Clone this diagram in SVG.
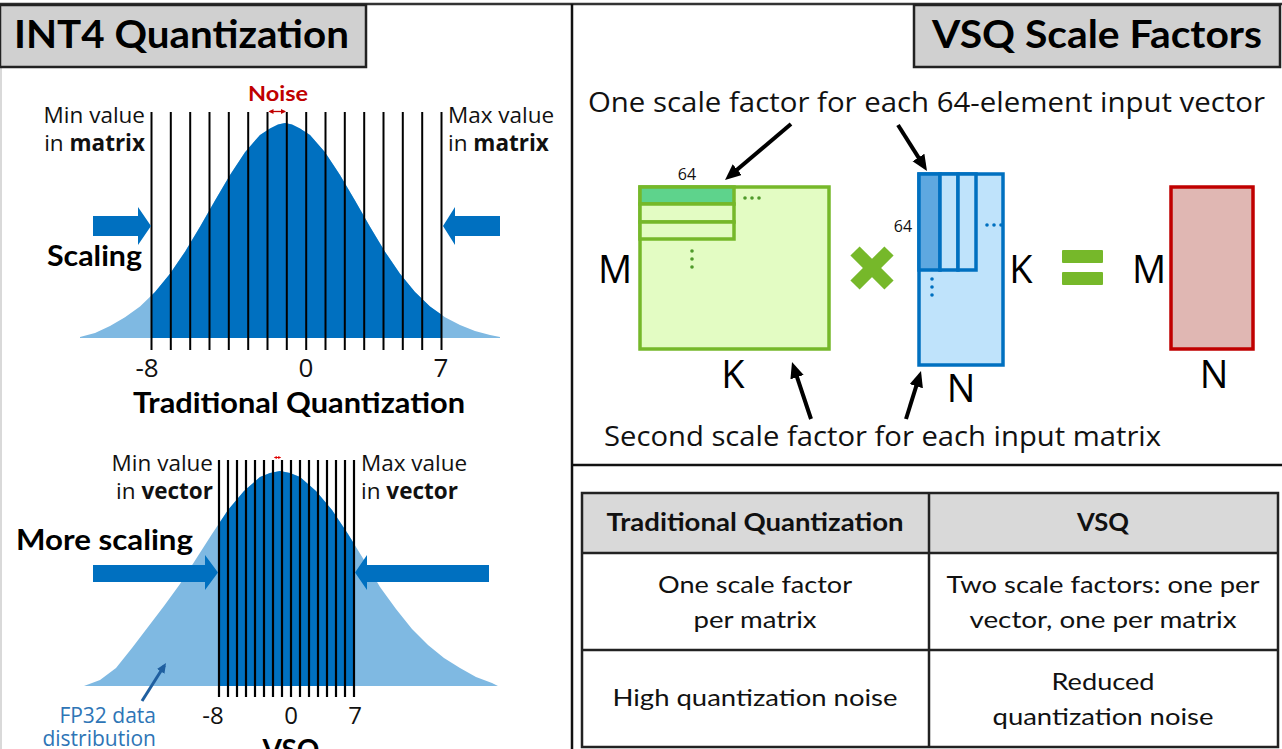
<svg xmlns="http://www.w3.org/2000/svg" width="1282" height="749" viewBox="0 0 1282 749">
<style>
.title{font-family:Lato,"Liberation Sans",sans-serif;font-weight:700;font-size:39px;fill:#000}
.bold{font-family:Lato,"Liberation Sans",sans-serif;font-weight:700;font-size:28px;fill:#000}
.lab{font-family:"Open Sans","Liberation Sans",sans-serif;font-size:22.5px;fill:#111}
.fp{font-family:"Open Sans","Liberation Sans",sans-serif;font-size:21px;fill:#2e75b6}
.num{font-family:"Open Sans","Liberation Sans",sans-serif;font-size:26px;fill:#111}
.big{font-family:"Open Sans","Liberation Sans",sans-serif;font-size:38px;fill:#000}
.small{font-family:"Open Sans","Liberation Sans",sans-serif;font-size:16px;fill:#111}
.cap{font-family:"Open Sans","Liberation Sans",sans-serif;font-size:27px;fill:#111}
.tab{font-family:Lato,"Liberation Sans",sans-serif;font-size:24px;fill:#111}
.tabh{font-family:Lato,"Liberation Sans",sans-serif;font-size:25px;font-weight:700;fill:#111}
.b{font-weight:700}
.qline{stroke:#000;stroke-width:2}
.qline2{stroke:#000;stroke-width:2.2}
.light{fill:#7fb9e2}
.dark{fill:#0070c0}
.blk{stroke:#000;stroke-width:4;fill:none}
.frame{stroke:#222;stroke-width:2.5;fill:none}
</style>
<defs>
<marker id="ah" markerUnits="userSpaceOnUse" markerWidth="18" markerHeight="16" refX="10" refY="7" orient="auto"><path d="M0,0 L16,7 L0,14 z" fill="#000"/></marker>
<marker id="ahb" markerUnits="userSpaceOnUse" markerWidth="12" markerHeight="10" refX="7" refY="4.5" orient="auto"><path d="M0,0 L10,4.5 L0,9 z" fill="#1f5fa0"/></marker>
<marker id="ahr" markerUnits="userSpaceOnUse" markerWidth="6" markerHeight="6" refX="4" refY="2.5" orient="auto-start-reverse"><path d="M0,0 L5,2.5 L0,5 z" fill="#c00000"/></marker>
<marker id="ahr2" markerUnits="userSpaceOnUse" markerWidth="4" markerHeight="4" refX="2" refY="1.5" orient="auto-start-reverse"><path d="M0,0 L3,1.5 L0,3 z" fill="#e00000"/></marker>
<clipPath id="c1"><rect x="151.5" y="100" width="290" height="250"/></clipPath>
<clipPath id="c2"><rect x="219" y="450" width="135" height="250"/></clipPath>
<path id="g1" d="M80,338 L80,337 L95,333 L110,326 L125,317.2 L140,306.5 L155,292.1 L170,273.7 L185,251.7 L200,226.8 L215,200.6 L230,174.9 L245,152.2 L260,134.9 L270,128.5 L278,124.5 L285,123 L292,124.5 L300,128.5 L310,134.9 L325,152.2 L340,174.9 L355,200.6 L370,226.8 L385,251.7 L400,273.7 L415,292.1 L430,306.5 L445,317.2 L460,324.9 L475,331 L490,335 L500,337 L500,338 Z"/>
<path id="g2" d="M84,686 L100,680 L116,668 L132,648 L148,627 L164,606 L180,584 L196,559 L212,534 L228,510 L244,491 L260,477 L270,473 L280,471 L290,473 L300,477 L316,491 L332,510 L348,534 L364,560 L380,587 L396,609 L412,629 L428,645 L444,658 L460,668 L476,677 L492,683 L498,686 Z"/>
</defs>
<rect width="1282" height="749" fill="#fff"/>

<g id="frame">
<line x1="0" y1="4" x2="1282" y2="4" stroke="#333" stroke-width="2.5"/>
<line x1="1" y1="4" x2="1" y2="749" stroke="#ccc" stroke-width="1.5"/>
<line x1="572" y1="4" x2="572" y2="749" stroke="#111" stroke-width="2.5"/>
<line x1="572" y1="465" x2="1282" y2="465" stroke="#111" stroke-width="2.5"/>
</g>

<g id="title-int4">
<rect x="0" y="5" width="366" height="62" fill="#d0d0d0" stroke="#222" stroke-width="2.5"/>
<text class="title" x="14" y="48" textLength="335" lengthAdjust="spacingAndGlyphs">INT4 Quantization</text>
</g>

<g id="title-vsq">
<rect x="914" y="5" width="366" height="62" fill="#d0d0d0" stroke="#222" stroke-width="2.5"/>
<text class="title" x="932" y="48" textLength="330" lengthAdjust="spacingAndGlyphs">VSQ Scale Factors</text>
</g>

<g id="traditional-dist">
<use href="#g1" class="light"/>
<use href="#g1" class="dark" clip-path="url(#c1)"/>
<g class="qline">
<line x1="151.5" y1="112" x2="151.5" y2="350"/><line x1="170.8" y1="112" x2="170.8" y2="350"/>
<line x1="190.2" y1="112" x2="190.2" y2="350"/><line x1="209.5" y1="112" x2="209.5" y2="350"/>
<line x1="228.8" y1="112" x2="228.8" y2="350"/><line x1="248.2" y1="112" x2="248.2" y2="350"/>
<line x1="267.5" y1="112" x2="267.5" y2="350"/><line x1="286.8" y1="112" x2="286.8" y2="350"/>
<line x1="306.2" y1="112" x2="306.2" y2="350"/><line x1="325.5" y1="112" x2="325.5" y2="350"/>
<line x1="344.8" y1="112" x2="344.8" y2="350"/><line x1="364.2" y1="112" x2="364.2" y2="350"/>
<line x1="383.5" y1="112" x2="383.5" y2="350"/><line x1="402.8" y1="112" x2="402.8" y2="350"/>
<line x1="422.2" y1="112" x2="422.2" y2="350"/><line x1="441.5" y1="112" x2="441.5" y2="350"/>
</g>
<line x1="269.5" y1="111.5" x2="285" y2="111.5" stroke="#c00000" stroke-width="1.3" marker-start="url(#ahr)" marker-end="url(#ahr)"/>
<text x="278" y="101" text-anchor="middle" style="font-family:Lato,'Liberation Sans',sans-serif;font-weight:700;font-size:21px;fill:#c00000" textLength="60" lengthAdjust="spacingAndGlyphs">Noise</text>
<text class="lab" x="145" y="123" text-anchor="end">Min value</text>
<text class="lab" x="145" y="151" text-anchor="end">in <tspan class="b">matrix</tspan></text>
<text class="lab" x="448" y="123">Max value</text>
<text class="lab" x="448" y="151">in <tspan class="b">matrix</tspan></text>
<path class="dark" d="M93,216 L138,216 L138,207 L151,226 L138,245 L138,236 L93,236 Z"/>
<path class="dark" d="M500,216 L455,216 L455,207 L443,226 L455,245 L455,236 L500,236 Z"/>
<text class="bold" x="47" y="266" textLength="95" lengthAdjust="spacingAndGlyphs">Scaling</text>
<text class="num" x="147" y="377" text-anchor="middle">-8</text>
<text class="num" x="306" y="377" text-anchor="middle">0</text>
<text class="num" x="441" y="377" text-anchor="middle">7</text>
<text class="bold" x="133" y="413" textLength="332" lengthAdjust="spacingAndGlyphs">Traditional Quantization</text>
</g>

<g id="vsq-dist">
<use href="#g2" class="light"/>
<use href="#g2" class="dark" clip-path="url(#c2)"/>
<g class="qline2">
<line x1="219" y1="460" x2="219" y2="697"/><line x1="228" y1="460" x2="228" y2="697"/>
<line x1="237" y1="460" x2="237" y2="697"/><line x1="246" y1="460" x2="246" y2="697"/>
<line x1="255" y1="460" x2="255" y2="697"/><line x1="264" y1="460" x2="264" y2="697"/>
<line x1="273" y1="460" x2="273" y2="697"/><line x1="282" y1="460" x2="282" y2="697"/>
<line x1="291" y1="460" x2="291" y2="697"/><line x1="300" y1="460" x2="300" y2="697"/>
<line x1="309" y1="460" x2="309" y2="697"/><line x1="318" y1="460" x2="318" y2="697"/>
<line x1="327" y1="460" x2="327" y2="697"/><line x1="336" y1="460" x2="336" y2="697"/>
<line x1="345" y1="460" x2="345" y2="697"/><line x1="354" y1="460" x2="354" y2="697"/>
</g>
<line x1="274.8" y1="457.5" x2="280.2" y2="457.5" stroke="#e00000" stroke-width="1" marker-start="url(#ahr2)" marker-end="url(#ahr2)"/>
<text class="lab" x="213" y="471" text-anchor="end">Min value</text>
<text class="lab" x="213" y="499" text-anchor="end">in <tspan class="b">vector</tspan></text>
<text class="lab" x="361" y="471">Max value</text>
<text class="lab" x="361" y="499">in <tspan class="b">vector</tspan></text>
<text class="bold" x="16" y="550" textLength="177" lengthAdjust="spacingAndGlyphs">More scaling</text>
<path class="dark" d="M93,565 L205,565 L205,555 L218,572.5 L205,590 L205,582 L93,582 Z"/>
<path class="dark" d="M489,565 L367,565 L367,555 L355,572.5 L367,590 L367,582 L489,582 Z"/>
<text class="num" x="213" y="724" text-anchor="middle" style="font-size:24px">-8</text>
<text class="num" x="291" y="724" text-anchor="middle" style="font-size:24px">0</text>
<text class="num" x="355" y="724" text-anchor="middle" style="font-size:24px">7</text>
<text class="bold" x="291" y="760" text-anchor="middle">VSQ</text>
<text class="fp" x="156" y="723" text-anchor="end">FP32 data</text>
<text class="fp" x="156" y="746" text-anchor="end">distribution</text>
<line x1="142" y1="701" x2="164.4" y2="665.5" stroke="#1f5fa0" stroke-width="3" marker-end="url(#ahb)"/>
</g>

<g id="matrix-a">
<rect x="640" y="187" width="189" height="162" fill="#e3fcc3" stroke="#76b82a" stroke-width="3.5"/>
<rect x="640" y="187" width="94" height="17" fill="#5ed38c" stroke="#76b82a" stroke-width="3.5"/>
<rect x="640" y="204" width="94" height="18" fill="#e3fcc3" stroke="#76b82a" stroke-width="3.5"/>
<rect x="640" y="222" width="94" height="17" fill="#e3fcc3" stroke="#76b82a" stroke-width="3.5"/>
<g fill="#4f9a2a"><circle cx="745" cy="198" r="1.8"/><circle cx="752" cy="198" r="1.8"/><circle cx="759" cy="198" r="1.8"/>
<circle cx="692" cy="251" r="1.8"/><circle cx="692" cy="259" r="1.8"/><circle cx="692" cy="267" r="1.8"/></g>
<text class="small" x="687" y="180" text-anchor="middle">64</text>
<text class="big" x="615" y="283" text-anchor="middle">M</text>
<text class="big" x="733" y="388" text-anchor="middle">K</text>
</g>

<g id="times">
<line x1="855" y1="251" x2="889" y2="285" stroke="#76b82a" stroke-width="13"/>
<line x1="889" y1="251" x2="855" y2="285" stroke="#76b82a" stroke-width="13"/>
</g>

<g id="matrix-b">
<rect x="919" y="174" width="84" height="191" fill="#bfe3fb" stroke="#0070c0" stroke-width="3.5"/>
<rect x="919" y="174" width="21" height="96" fill="#5ea8e0" stroke="#0070c0" stroke-width="3.5"/>
<rect x="940" y="174" width="18" height="96" fill="#bfe3fb" stroke="#0070c0" stroke-width="3.5"/>
<rect x="958" y="174" width="18" height="96" fill="#bfe3fb" stroke="#0070c0" stroke-width="3.5"/>
<g fill="#0070c0"><circle cx="987" cy="225" r="1.8"/><circle cx="994" cy="225" r="1.8"/><circle cx="1001" cy="225" r="1.8"/>
<circle cx="932" cy="279" r="1.8"/><circle cx="932" cy="287" r="1.8"/><circle cx="932" cy="295" r="1.8"/></g>
<text class="small" x="903" y="232" text-anchor="middle">64</text>
<text class="big" x="1021" y="283" text-anchor="middle">K</text>
<text class="big" x="961" y="402" text-anchor="middle">N</text>
</g>

<g id="equals">
<rect x="1062" y="250" width="41" height="13" rx="1" fill="#76b82a"/>
<rect x="1062" y="272" width="41" height="13" rx="1" fill="#76b82a"/>
</g>

<g id="matrix-c">
<rect x="1171" y="187" width="82" height="162" fill="#e0b7b3" stroke="#c00000" stroke-width="3.5"/>
<text class="big" x="1149" y="283" text-anchor="middle">M</text>
<text class="big" x="1214" y="388" text-anchor="middle">N</text>
</g>

<g id="captions">
<text class="cap" x="588" y="112" textLength="677" lengthAdjust="spacingAndGlyphs">One scale factor for each 64-element input vector</text>
<text class="cap" x="604" y="446" textLength="557" lengthAdjust="spacingAndGlyphs">Second scale factor for each input matrix</text>
</g>

<g id="connectors">
<line class="blk" x1="791" y1="124" x2="729.6" y2="176.1" marker-end="url(#ah)"/>
<line class="blk" x1="898" y1="125" x2="923.8" y2="165.9" marker-end="url(#ah)"/>
<line class="blk" x1="811" y1="419" x2="793.9" y2="367.7" marker-end="url(#ah)"/>
<line class="blk" x1="906" y1="419" x2="919.2" y2="376.7" marker-end="url(#ah)"/>
</g>

<g id="table">
<rect x="582" y="493" width="696" height="60" fill="#d9d9d9"/>
<rect x="582" y="493" width="696" height="254" class="frame"/>
<line x1="582" y1="553" x2="1278" y2="553" stroke="#222" stroke-width="2.5"/>
<line x1="582" y1="650" x2="1278" y2="650" stroke="#222" stroke-width="2.5"/>
<line x1="929" y1="493" x2="929" y2="747" stroke="#222" stroke-width="2.5"/>
<text class="tabh" x="755" y="531" text-anchor="middle" textLength="297" lengthAdjust="spacingAndGlyphs">Traditional Quantization</text>
<text class="tabh" x="1103" y="531" text-anchor="middle" textLength="52" lengthAdjust="spacingAndGlyphs">VSQ</text>
<text class="tab" x="755" y="593" text-anchor="middle" textLength="194" lengthAdjust="spacingAndGlyphs">One scale factor</text>
<text class="tab" x="755" y="628" text-anchor="middle" textLength="123" lengthAdjust="spacingAndGlyphs">per matrix</text>
<text class="tab" x="1103" y="593" text-anchor="middle" textLength="313" lengthAdjust="spacingAndGlyphs">Two scale factors: one per</text>
<text class="tab" x="1103" y="628" text-anchor="middle" textLength="267" lengthAdjust="spacingAndGlyphs">vector, one per matrix</text>
<text class="tab" x="755" y="706" text-anchor="middle" textLength="285" lengthAdjust="spacingAndGlyphs">High quantization noise</text>
<text class="tab" x="1103" y="690" text-anchor="middle" textLength="103" lengthAdjust="spacingAndGlyphs">Reduced</text>
<text class="tab" x="1103" y="725" text-anchor="middle" textLength="221" lengthAdjust="spacingAndGlyphs">quantization noise</text>
</g>
</svg>
